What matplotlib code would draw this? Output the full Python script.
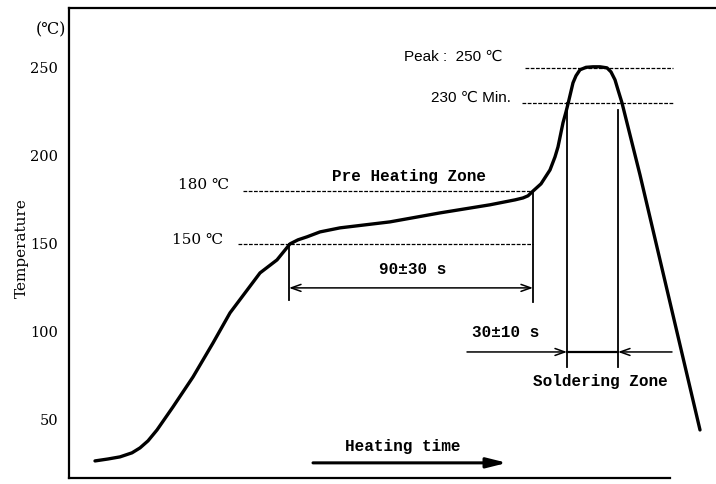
"""
Reflow soldering temperature profile (schematic).
"""

import matplotlib.pyplot as plt

# ---- data (time in arbitrary drawing units, temperature in °C)
time_pts = [26, 39, 51, 63, 71, 79, 88, 104, 124, 144, 161, 191, 208, 221,
            229, 238, 251, 271, 321, 371, 421, 446, 454, 459, 464, 472, 481,
            486, 489, 494, 497, 499, 504, 507, 511, 517, 524, 531, 538, 542,
            546, 549, 553, 564, 571, 631]
temp_pts = [26.7, 27.8, 29.0, 31.3, 34.1, 38.1, 44.3, 57.4, 74.4, 93.7, 110.8,
            133.5, 140.9, 150.0, 152.3, 154.0, 156.8, 159.1, 162.5, 167.6, 172.2,
            175.0, 176.1, 177.3, 180.0, 184.1, 192.0, 199.4, 205.1, 218.8, 225.0,
            229.5, 241.5, 245.5, 248.9, 250.3, 250.6, 250.6, 250.0, 247.7, 243.2,
            237.5, 230.1, 205.1, 189.2, 44.3]

y_ticks = [50, 100, 150, 200, 250]
preheat_start, preheat_end = 220, 464      # 150 °C reached / 180 °C reached
solder_start, solder_end = 498, 549        # above 230 °C
t_preheat_low, t_preheat_high = 150, 180
t_min_solder, t_peak = 230, 250


def main():
    fig = plt.figure(figsize=(7.16, 4.84), dpi=100)
    ax = fig.add_axes([69 / 716, 6 / 484, 647 / 716, 470 / 484])
    ax.set_xlim(0, 647)
    ax.set_ylim(17, 284)

    serif = ['DejaVu Serif']
    mono = ['Liberation Mono', 'DejaVu Sans Mono']
    sans = ['Liberation Sans', 'DejaVu Sans']

    # frame: left, top and a slightly shorter bottom line, no right side
    for side in ('left', 'top', 'bottom'):
        ax.spines[side].set_linewidth(1.6)
    ax.spines['right'].set_visible(False)
    ax.spines['bottom'].set_bounds(0, 601)
    ax.set_xticks([])
    ax.set_yticks(y_ticks)
    ax.tick_params(axis='y', length=0, pad=8)
    for lab in ax.get_yticklabels():
        lab.set_fontfamily(serif)
        lab.set_fontsize(10.5)

    # profile curve
    ax.plot(time_pts, temp_pts, color='black', lw=2.4, solid_capstyle='round',
            solid_joinstyle='round')

    # dashed reference levels
    dash = dict(color='black', lw=0.9, ls=(0, (3, 1.2)))
    ax.plot([169, preheat_end], [t_preheat_low] * 2, **dash)
    ax.plot([174, preheat_end], [t_preheat_high] * 2, **dash)
    ax.plot([456, 604], [t_peak] * 2, **dash)
    ax.plot([453, 604], [t_min_solder] * 2, **dash)

    # pre heating zone markers
    ax.plot([preheat_start] * 2, [t_preheat_low, 118], color='black', lw=1.3)
    ax.plot([preheat_end] * 2, [t_preheat_high, 117], color='black', lw=1.3)
    ax.annotate('', xy=(preheat_end, 125), xytext=(preheat_start, 125),
                arrowprops=dict(arrowstyle='<->,head_length=0.7,head_width=0.25',
                                color='black', lw=1.1, shrinkA=0, shrinkB=0))

    # soldering zone markers
    ax.plot([solder_start] * 2, [t_min_solder, 80], color='black', lw=1.3)
    ax.plot([solder_end] * 2, [226, 80], color='black', lw=1.3)
    ax.plot([solder_start, solder_end], [88.6, 88.6], color='black', lw=1.6)
    ax.annotate('', xy=(solder_start, 88.6), xytext=(398, 88.6),
                arrowprops=dict(arrowstyle='->,head_length=0.7,head_width=0.25',
                                color='black', lw=1.1, shrinkA=0, shrinkB=0))
    ax.annotate('', xy=(solder_end, 88.6), xytext=(603, 88.6),
                arrowprops=dict(arrowstyle='->,head_length=0.7,head_width=0.25',
                                color='black', lw=1.1, shrinkA=0, shrinkB=0))

    # heating time arrow
    ax.annotate('', xy=(438, 25.6), xytext=(244, 25.6),
                arrowprops=dict(arrowstyle='-|>,head_length=1.2,head_width=0.3',
                                color='black', lw=2.2, shrinkA=0, shrinkB=0))

    # labels
    ax.text(134, 183.5, '180 ℃', fontsize=11, family=serif, ha='center', va='center')
    ax.text(129, 152.3, '150 ℃', fontsize=11, family=serif, ha='center', va='center')
    ax.text(340, 188, 'Pre Heating Zone', fontsize=11.5, family=mono,
            fontweight='bold', ha='center', va='center')
    ax.text(344, 135.2, '90±30 s', fontsize=11.5, family=mono, fontweight='bold',
            ha='center', va='center')
    ax.text(384, 256, 'Peak :  250 ℃', fontsize=11, family=sans,
            ha='center', va='center')
    ax.text(402, 233, '230 ℃ Min.', fontsize=11, family=sans,
            ha='center', va='center')
    ax.text(437, 99.4, '30±10 s', fontsize=11.5, family=mono, fontweight='bold',
            ha='center', va='center')
    ax.text(531, 71.6, 'Soldering Zone', fontsize=11.5, family=mono,
            fontweight='bold', ha='center', va='center')
    ax.text(334, 34.7, 'Heating time', fontsize=11.5, family=mono,
            fontweight='bold', ha='center', va='center')

    fig.text(51 / 716, 1 - 30 / 484, '(℃)', fontsize=11.5, family=serif,
             ha='center', va='center')
    fig.text(22 / 716, 1 - 248 / 484, 'Temperature', fontsize=11, family=serif,
             rotation=90, ha='center', va='center')

    fig.savefig('out.png', dpi=100, facecolor='white')


if __name__ == "__main__":
    main()
